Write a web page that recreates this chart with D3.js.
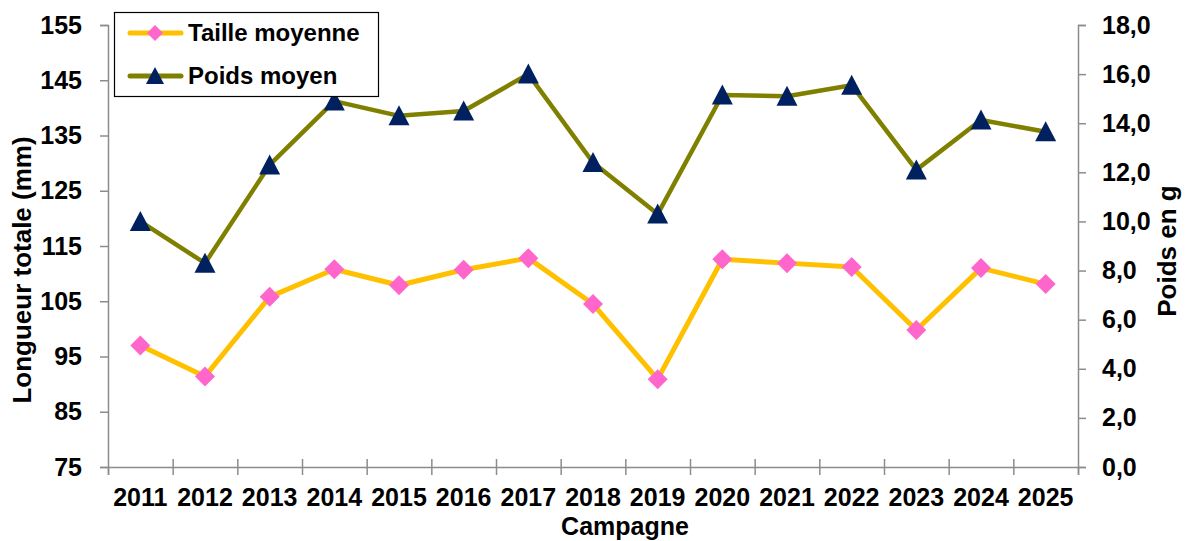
<!DOCTYPE html>
<html>
<head>
<meta charset="utf-8">
<script src="https://cdn.jsdelivr.net/npm/d3@7"></script>
<style>
  body { margin: 0; background: #fff; }
  svg text { font-family: "Liberation Sans", Arial, sans-serif; font-weight: bold; fill: #000; }
  .axis path, .axis line { stroke: #8c8c8c; stroke-width: 1.5; }
</style>
</head>
<body>
<div id="chart"></div>
<script>
const years = ['2011','2012','2013','2014','2015','2016','2017','2018','2019','2020','2021','2022','2023','2024','2025'];
const taille = [97, 91.4, 105.8, 110.8, 107.9, 110.7, 112.8, 104.5, 90.9, 112.6, 111.9, 111.2, 99.8, 111.0, 108.1];
const poids = [10.0, 8.3, 12.3, 14.9, 14.3, 14.5, 16.0, 12.4, 10.3, 15.15, 15.1, 15.55, 12.1, 14.13, 13.65];
const leftTicks = [75, 85, 95, 105, 115, 125, 135, 145, 155];
const rightTicks = [0, 2, 4, 6, 8, 10, 12, 14, 16, 18];

const width = 1192, height = 541;
const margin = {top: 25, right: 114, bottom: 74, left: 108};
const plotW = width - margin.left - margin.right,
      plotH = height - margin.top - margin.bottom;

const svg = d3.select('#chart').append('svg')
  .attr('width', width)
  .attr('height', height);

const chart = svg.append('g')
  .attr('transform', `translate(${margin.left}, ${margin.top})`);

// scales
const x = d3.scaleBand().domain(years).range([0, plotW]);
const xb = d3.scaleLinear().domain([0, years.length]).range([0, plotW]);
const yL = d3.scaleLinear().domain([75, 155]).range([plotH, 0]);
const yR = d3.scaleLinear().domain([0, 18]).range([plotH, 0]);

// axes
const leftAxis = chart.append('g')
  .attr('class', 'axis')
  .call(d3.axisLeft(yL).tickValues(leftTicks).tickSizeOuter(0).tickSize(8).tickPadding(18));
leftAxis.selectAll('text').style('font-size', '25px');

const rightAxis = chart.append('g')
  .attr('class', 'axis')
  .attr('transform', `translate(${plotW}, 0)`)
  .call(d3.axisRight(yR).tickValues(rightTicks).tickSizeOuter(0).tickSize(8).tickPadding(16)
    .tickFormat(d => d.toFixed(1).replace('.', ',')));
rightAxis.selectAll('text').style('font-size', '25px');

const bottomTicks = chart.append('g')
  .attr('class', 'axis')
  .attr('transform', `translate(0, ${plotH})`)
  .call(d3.axisBottom(xb).tickValues(d3.range(0, years.length + 1)).tickSizeOuter(0).tickSize(8).tickFormat(''));
bottomTicks.selectAll('.tick line').attr('y1', d => (d === 0 || d === years.length) ? 0 : -8);

const bottomLabels = chart.append('g')
  .attr('transform', `translate(0, ${plotH})`)
  .call(d3.axisBottom(x).tickSize(0).tickPadding(0));
bottomLabels.select('.domain').remove();
bottomLabels.selectAll('text')
  .style('font-size', '25px')
  .attr('y', 39)
  .attr('dy', 0);

// lines
const lineT = d3.line().x(d => x(d.year) + x.bandwidth() / 2).y(d => yL(d.v));
const lineP = d3.line().x(d => x(d.year) + x.bandwidth() / 2).y(d => yR(d.v));
const tData = years.map((y, i) => ({year: y, v: taille[i]}));
const pData = years.map((y, i) => ({year: y, v: poids[i]}));

const diamond = 'M0,-10L10,0L0,10L-10,0Z';
const triangle = 'M0,-10.5L10.5,9.5L-10.5,9.5Z';

chart.append('path')
  .datum(tData)
  .attr('d', lineT)
  .attr('fill', 'none')
  .attr('stroke', '#FFC000')
  .attr('stroke-width', 5)
  .attr('stroke-linejoin', 'round');

chart.append('g')
  .selectAll('path')
  .data(tData)
  .enter().append('path')
  .attr('d', diamond)
  .attr('transform', d => `translate(${x(d.year) + x.bandwidth() / 2}, ${yL(d.v)})`)
  .attr('fill', '#FF66CC');

chart.append('path')
  .datum(pData)
  .attr('d', lineP)
  .attr('fill', 'none')
  .attr('stroke', '#808000')
  .attr('stroke-width', 4.5)
  .attr('stroke-linejoin', 'round');

chart.append('g')
  .selectAll('path')
  .data(pData)
  .enter().append('path')
  .attr('d', triangle)
  .attr('transform', d => `translate(${x(d.year) + x.bandwidth() / 2}, ${yR(d.v)})`)
  .attr('fill', '#002060');

// axis titles
svg.append('text')
  .attr('transform', 'translate(31, 270) rotate(-90)')
  .attr('text-anchor', 'middle')
  .style('font-size', '26px')
  .text('Longueur totale (mm)');

svg.append('text')
  .attr('transform', 'translate(1176, 251) rotate(-90)')
  .attr('text-anchor', 'middle')
  .style('font-size', '26px')
  .text('Poids en g');

svg.append('text')
  .attr('x', 625)
  .attr('y', 535)
  .attr('text-anchor', 'middle')
  .style('font-size', '25px')
  .text('Campagne');

// legend
const legend = svg.append('g').attr('transform', 'translate(114, 12)');
legend.append('rect')
  .attr('x', 0.5).attr('y', 0.5)
  .attr('width', 264).attr('height', 84)
  .attr('fill', '#fff')
  .attr('stroke', '#000')
  .attr('stroke-width', 1.2);

const legendItems = [
  {label: 'Taille moyenne', line: '#FFC000', mark: '#FF66CC', shape: 'M0,-8L8,0L0,8L-8,0Z'},
  {label: 'Poids moyen', line: '#808000', mark: '#002060', shape: 'M0,-9L9,8L-9,8Z'}
];

const li = legend.selectAll('.li')
  .data(legendItems)
  .enter().append('g')
  .attr('transform', (d, i) => `translate(0, ${21 + i * 43})`);

li.append('line')
  .attr('x1', 16).attr('x2', 67)
  .attr('stroke', d => d.line)
  .attr('stroke-width', 5)
  .attr('stroke-linecap', 'round');

li.append('path')
  .attr('d', d => d.shape)
  .attr('transform', 'translate(41, 0)')
  .attr('fill', d => d.mark);

li.append('text')
  .attr('x', 74)
  .attr('y', 8)
  .style('font-size', '24px')
  .text(d => d.label);
</script>
</body>
</html>
